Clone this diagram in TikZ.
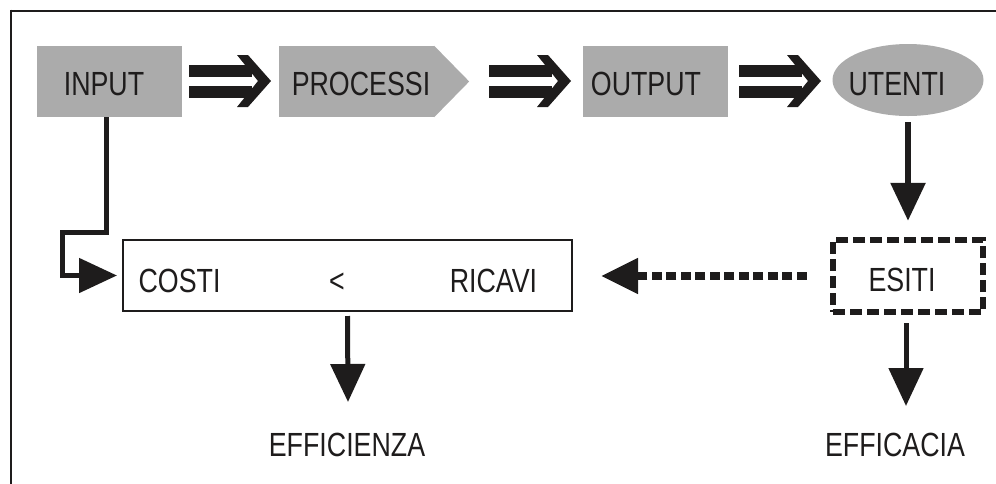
\documentclass[tikz,border=0pt]{standalone}
\usepackage{fontspec}
\setmainfont{Liberation Sans}[FakeStretch=0.8]
\usetikzlibrary{arrows.meta,shapes.geometric,calc}

\definecolor{boxgray}{RGB}{171,171,171}
\definecolor{inkblack}{RGB}{30,28,28}

\tikzset{
  lbl/.style={font=\fontsize{33.5}{40}\selectfont, text=inkblack, inner sep=0pt, anchor=base},
  graybox/.style={fill=boxgray, draw=none, inner sep=0pt, minimum width=145pt, minimum height=71pt},
  conn/.style={draw=inkblack, line width=6pt, -{Triangle[length=38pt,width=34pt]}},
  dashconn/.style={draw=inkblack, line width=8pt, dash pattern=on 10pt off 4.5pt,
                   -{Triangle[length=37pt,width=34pt]}},
  frameline/.style={draw=inkblack, line width=2pt},
  pics/dblarrow/.style={code={
    \fill[inkblack] (-41,-16.5) rectangle (22,-4.5);
    \fill[inkblack] (-41,4.5) rectangle (22,16.5);
    \fill[inkblack] (7,-26) -- (18,-26) -- (41,0) -- (18,26) -- (7,26) -- (28,0) -- cycle;
  }}
}

\begin{document}
\begin{tikzpicture}[x=1pt, y=-1pt]
\useasboundingbox (0,0) rectangle (996,483);

% open frame: top and left edges
\draw[frameline] (11,10.5) -- (998,10.5);
\draw[frameline] (11,9.5) -- (11,485);

% top row of stages
\node[graybox] (input) at (109.5,81.5) {};
\node[lbl] (inputtxt) at (104,95) {INPUT};

\node[graybox, minimum width=155pt] (procbody) at (356.5,81.5) {};
\fill[boxgray] (procbody.north east) -- ($(procbody.east)+(35,0)$) -- (procbody.south east) -- cycle;
\node[lbl] (proctxt) at (361,95) {PROCESSI};

\node[graybox] (output) at (655.5,81.5) {};
\node[lbl] (outputtxt) at (646,95) {OUTPUT};

\node[ellipse, fill=boxgray, inner sep=0pt, minimum width=151pt, minimum height=72pt] (utenti) at (908,80) {};
\node[lbl] (utentitxt) at (897,95) {UTENTI};

% bold double arrows between stages
\pic at (230,81) {dblarrow};
\pic at (530,81) {dblarrow};
\pic at (780,81) {dblarrow};

% costs / revenues box
\node[draw=inkblack, line width=2pt, inner sep=0pt, minimum width=449pt, minimum height=71pt] (costi) at (347.5,275.5) {};
\node[lbl] (costitxt) at (179.5,292) {COSTI};
\node[lbl] (lttxt) at (337,292) {<};
\node[lbl] (ricavitxt) at (493.5,292) {RICAVI};

% outcomes box
\node[draw=inkblack, line width=6.5pt, dash pattern=on 12pt off 5pt, inner sep=0pt,
      minimum width=150pt, minimum height=72pt] (esiti) at (908,276) {};
\node[lbl] (esititxt) at (902,291) {ESITI};

% result labels
\node[lbl] (effz) at (347,456) {EFFICIENZA};
\node[lbl] (effc) at (895,456) {EFFICACIA};

% connectors
\coordinate (bend) at (62,232);
\draw[conn, line width=5pt, shorten >=5pt] ([xshift=-3.5pt]input.south) |- (bend) |- (costi.west);

\draw[conn, shorten <=6pt, shorten >=16pt] (utenti.south) -- (esiti.north);

\draw[dashconn, shorten <=23pt, shorten >=28pt] (esiti.west) -- (esiti.west -| costi.east);

\coordinate (effztip) at (348,402);
\draw[conn, line width=5pt] ([yshift=-4pt]costi.south) -- (effztip);

\coordinate (effctip) at (906,406);
\draw[conn, line width=5pt] ([yshift=-8pt]esiti.south -| effctip) -- (effctip);
\end{tikzpicture}
\end{document}
